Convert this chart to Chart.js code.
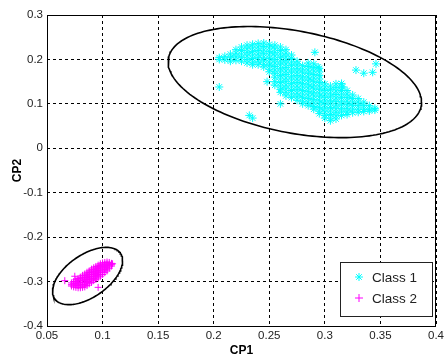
<!DOCTYPE html>
<html>
<head>
<meta charset="utf-8">
<script src="https://cdn.jsdelivr.net/npm/chart.js@4/dist/chart.umd.min.js"></script>
<style>
  body { margin: 0; background: #fff; }
  canvas { display: block; }
</style>
</head>
<body>
<canvas id="cp" width="447" height="358"></canvas>
<script>
// axis ticks
const xTicks = [0.05, 0.1, 0.15, 0.2, 0.25, 0.3, 0.35, 0.4];
const xTickLabels = ['0.05', '0.1', '0.15', '0.2', '0.25', '0.3', '0.35', '0.4'];
const yTicks = [-0.4, -0.3, -0.2, -0.1, 0, 0.1, 0.2, 0.3];
const yTickLabels = ['-0.4', '-0.3', '-0.2', '-0.1', '0', '0.1', '0.2', '0.3'];

// Class 1 cloud, read column by column (x, then the y values seen in that column)
const class1X = [0.205, 0.21, 0.215, 0.22, 0.225, 0.23, 0.235, 0.24, 0.245, 0.25,
  0.255, 0.26, 0.265, 0.27, 0.275, 0.28, 0.285, 0.29, 0.295, 0.3,
  0.305, 0.31, 0.315, 0.32, 0.325, 0.33, 0.335, 0.34, 0.345];
const class1Y = [
  [0.204, 0.200],
  [0.207, 0.199],
  [0.212, 0.204, 0.196],
  [0.222, 0.214, 0.206, 0.198],
  [0.228, 0.220, 0.212, 0.204, 0.196],
  [0.232, 0.224, 0.216, 0.208, 0.200, 0.192],
  [0.234, 0.226, 0.218, 0.210, 0.202, 0.194, 0.188],
  [0.236, 0.228, 0.220, 0.212, 0.204, 0.196, 0.188],
  [0.237, 0.229, 0.221, 0.213, 0.205, 0.197, 0.189, 0.183],
  [0.234, 0.226, 0.218, 0.210, 0.202, 0.194, 0.186, 0.178, 0.172],
  [0.232, 0.224, 0.216, 0.208, 0.200, 0.192, 0.184, 0.176, 0.168, 0.160, 0.150, 0.142],
  [0.228, 0.220, 0.212, 0.204, 0.196, 0.188, 0.180, 0.172, 0.164, 0.156, 0.148, 0.140, 0.132, 0.126],
  [0.222, 0.214, 0.206, 0.198, 0.190, 0.182, 0.174, 0.166, 0.158, 0.150, 0.142, 0.134, 0.126, 0.118],
  [0.210, 0.202, 0.194, 0.186, 0.178, 0.170, 0.162, 0.154, 0.146, 0.138, 0.130, 0.122, 0.114],
  [0.196, 0.188, 0.180, 0.172, 0.164, 0.156, 0.148, 0.140, 0.132, 0.124, 0.116, 0.108],
  [0.186, 0.178, 0.170, 0.162, 0.154, 0.146, 0.138, 0.130, 0.122, 0.114, 0.106, 0.100],
  [0.192, 0.184, 0.176, 0.168, 0.160, 0.152, 0.144, 0.136, 0.128, 0.120, 0.112, 0.104, 0.096],
  [0.190, 0.182, 0.174, 0.166, 0.158, 0.150, 0.142, 0.134, 0.126, 0.118, 0.110, 0.102, 0.094, 0.088],
  [0.180, 0.172, 0.164, 0.156, 0.148, 0.140, 0.132, 0.124, 0.116, 0.108, 0.100, 0.092, 0.084, 0.078],
  [0.145, 0.138, 0.130, 0.122, 0.114, 0.106, 0.098, 0.090, 0.082, 0.074, 0.068],
  [0.140, 0.132, 0.124, 0.116, 0.108, 0.100, 0.092, 0.084, 0.076, 0.068, 0.062],
  [0.145, 0.137, 0.129, 0.121, 0.113, 0.105, 0.097, 0.089, 0.081, 0.073, 0.066],
  [0.146, 0.138, 0.130, 0.122, 0.114, 0.106, 0.098, 0.090, 0.082, 0.074],
  [0.130, 0.122, 0.114, 0.106, 0.098, 0.090, 0.082, 0.076],
  [0.120, 0.112, 0.104, 0.096, 0.088, 0.080],
  [0.112, 0.104, 0.096, 0.088, 0.081],
  [0.104, 0.096, 0.088, 0.083],
  [0.096, 0.088, 0.084],
  [0.090, 0.086]
];
const class1Outliers = [[0.205, 0.138], [0.232, 0.074], [0.235, 0.068], [0.248, 0.150],
  [0.260, 0.100], [0.291, 0.216], [0.294, 0.183], [0.316, 0.138], [0.328, 0.176],
  [0.335, 0.169], [0.343, 0.171], [0.346, 0.190]];

// Class 2 cloud (tight, almost solid)
const class2X = [0.072, 0.074, 0.076, 0.078, 0.08, 0.082, 0.084, 0.086, 0.088, 0.09,
  0.092, 0.094, 0.096, 0.098, 0.1, 0.102, 0.104, 0.106, 0.108];
const class2Y = [
  [-0.303, -0.307, -0.310],
  [-0.300, -0.304, -0.308, -0.312],
  [-0.296, -0.300, -0.304, -0.308, -0.313],
  [-0.293, -0.297, -0.301, -0.305, -0.309, -0.314],
  [-0.290, -0.294, -0.298, -0.302, -0.306, -0.310, -0.314],
  [-0.286, -0.290, -0.294, -0.298, -0.302, -0.306, -0.310, -0.313],
  [-0.283, -0.287, -0.291, -0.295, -0.299, -0.303, -0.307, -0.312],
  [-0.279, -0.283, -0.287, -0.291, -0.295, -0.299, -0.303, -0.309],
  [-0.276, -0.280, -0.284, -0.288, -0.292, -0.296, -0.300, -0.305],
  [-0.272, -0.276, -0.280, -0.284, -0.288, -0.292, -0.296, -0.302],
  [-0.269, -0.273, -0.277, -0.281, -0.285, -0.289, -0.293, -0.298],
  [-0.266, -0.270, -0.274, -0.278, -0.282, -0.286, -0.290, -0.295],
  [-0.263, -0.267, -0.271, -0.275, -0.279, -0.283, -0.287, -0.292],
  [-0.260, -0.264, -0.268, -0.272, -0.276, -0.280, -0.284, -0.288],
  [-0.258, -0.262, -0.266, -0.270, -0.274, -0.278, -0.284],
  [-0.257, -0.261, -0.265, -0.269, -0.273, -0.280],
  [-0.256, -0.260, -0.264, -0.268, -0.272, -0.276],
  [-0.257, -0.261, -0.265, -0.270],
  [-0.259, -0.262, -0.265]
];
const class2Outliers = [[0.066, -0.298], [0.075, -0.288], [0.096, -0.313], [0.109, -0.260]];

// ellipses: centre x, centre y, then x = cx + ax*cos t, y = cy + ay*cos t + by*sin t
const ellipse1 = [0.273, 0.149, 0.114, -0.0455, 0.1165];
const ellipse2 = [0.0865, -0.2875, 0.0315, 0.0345, 0.0545];

function toPoints(xs, ys, extra) {
  let pts = [];
  xs.forEach(function(x, i) {
    ys[i].forEach(function(y) { pts.push({x: x, y: y}); });
  });
  extra.forEach(function(p) { pts.push({x: p[0], y: p[1]}); });
  return pts;
}

function ellipsePoints(e) {
  let pts = [];
  for (let k = 0; k <= 180; k++) {
    let t = k / 180 * Math.PI * 2;
    pts.push({x: e[0] + e[2] * Math.cos(t), y: e[1] + e[3] * Math.cos(t) + e[4] * Math.sin(t)});
  }
  return pts;
}

const tickFont = {family: 'Arial, "Liberation Sans", sans-serif', size: 11.5};
const titleFont = {family: 'Arial, "Liberation Sans", sans-serif', size: 12, weight: 'bold'};

// frame + legend box drawn by hand, like matlab does
const framePlugin = {
  id: 'frame',
  afterDraw: function(chart) {
    const ctx = chart.ctx;
    const a = chart.chartArea;
    ctx.save();
    ctx.setLineDash([]);
    ctx.strokeStyle = '#000';
    ctx.lineWidth = 1;
    ctx.strokeRect(Math.round(a.left) + 0.5, Math.round(a.top) + 0.5,
      Math.round(a.right - a.left) - 1, Math.round(a.bottom - a.top));

    // legend
    ctx.fillStyle = '#fff';
    ctx.fillRect(340, 262, 92, 54);
    ctx.strokeStyle = '#222';
    ctx.strokeRect(340.5, 262.5, 92, 54);
    const items = [{label: 'Class 1', color: '#00ffff', style: 'star', y: 277},
                   {label: 'Class 2', color: '#ff00ff', style: 'cross', y: 298}];
    ctx.font = '13.5px Arial, "Liberation Sans", sans-serif';
    ctx.textBaseline = 'middle';
    items.forEach(function(it) {
      ctx.strokeStyle = it.color;
      ctx.fillStyle = it.color;
      ctx.lineWidth = 1;
      Chart.helpers.drawPoint(ctx, {pointStyle: it.style, radius: 4, rotation: 0, borderWidth: 1}, 359, it.y);
      ctx.fillStyle = '#222';
      ctx.fillText(it.label, 372, it.y + 1);
    });
    ctx.restore();
  }
};

new Chart(document.getElementById('cp'), {
  type: 'scatter',
  data: {
    datasets: [
      {
        label: 'ellipse 1', type: 'line', data: ellipsePoints(ellipse1),
        borderColor: '#000', borderWidth: 1.6, pointRadius: 0, tension: 0, fill: false, order: 3
      },
      {
        label: 'ellipse 2', type: 'line', data: ellipsePoints(ellipse2),
        borderColor: '#000', borderWidth: 1.6, pointRadius: 0, tension: 0, fill: false, order: 3
      },
      {
        label: 'Class 1', data: toPoints(class1X, class1Y, class1Outliers),
        pointStyle: 'star', pointRadius: 4, pointBorderWidth: 1,
        borderColor: '#00ffff', backgroundColor: '#00ffff', order: 1
      },
      {
        label: 'Class 2', data: toPoints(class2X, class2Y, class2Outliers),
        pointStyle: 'cross', pointRadius: 3.5, pointBorderWidth: 1,
        borderColor: '#ff00ff', backgroundColor: '#ff00ff', order: 1
      }
    ]
  },
  options: {
    responsive: false,
    animation: false,
    layout: {padding: {top: 15, right: 6, left: 0, bottom: 0}},
    plugins: {legend: {display: false}, tooltip: {enabled: false}},
    scales: {
      x: {
        type: 'linear', min: 0.05, max: 0.4,
        afterBuildTicks: function(s) { s.ticks = xTicks.map(function(v) { return {value: v}; }); },
        afterFit: function(s) { s.height = 32; },
        ticks: {
          callback: function(v, i) { return xTickLabels[i]; },
          font: tickFont, color: '#222', padding: 3, maxRotation: 0, autoSkip: false
        },
        grid: {color: '#000', lineWidth: 1, drawTicks: false, tickLength: 0},
        border: {display: false, dash: [3, 3]},
        title: {display: true, text: 'CP1', font: titleFont, color: '#000', padding: {top: 0, bottom: 0}}
      },
      y: {
        type: 'linear', min: -0.4, max: 0.3,
        afterBuildTicks: function(s) { s.ticks = yTicks.map(function(v) { return {value: v}; }); },
        afterFit: function(s) { s.width = 47; },
        ticks: {
          callback: function(v, i) { return yTickLabels[i]; },
          font: tickFont, color: '#222', padding: 4, autoSkip: false
        },
        grid: {color: '#000', lineWidth: 1, drawTicks: false, tickLength: 0},
        border: {display: false, dash: [3, 3]},
        title: {display: true, text: 'CP2', font: titleFont, color: '#000', padding: {top: 10, bottom: 0}}
      }
    }
  },
  plugins: [framePlugin]
});
</script>
</body>
</html>
